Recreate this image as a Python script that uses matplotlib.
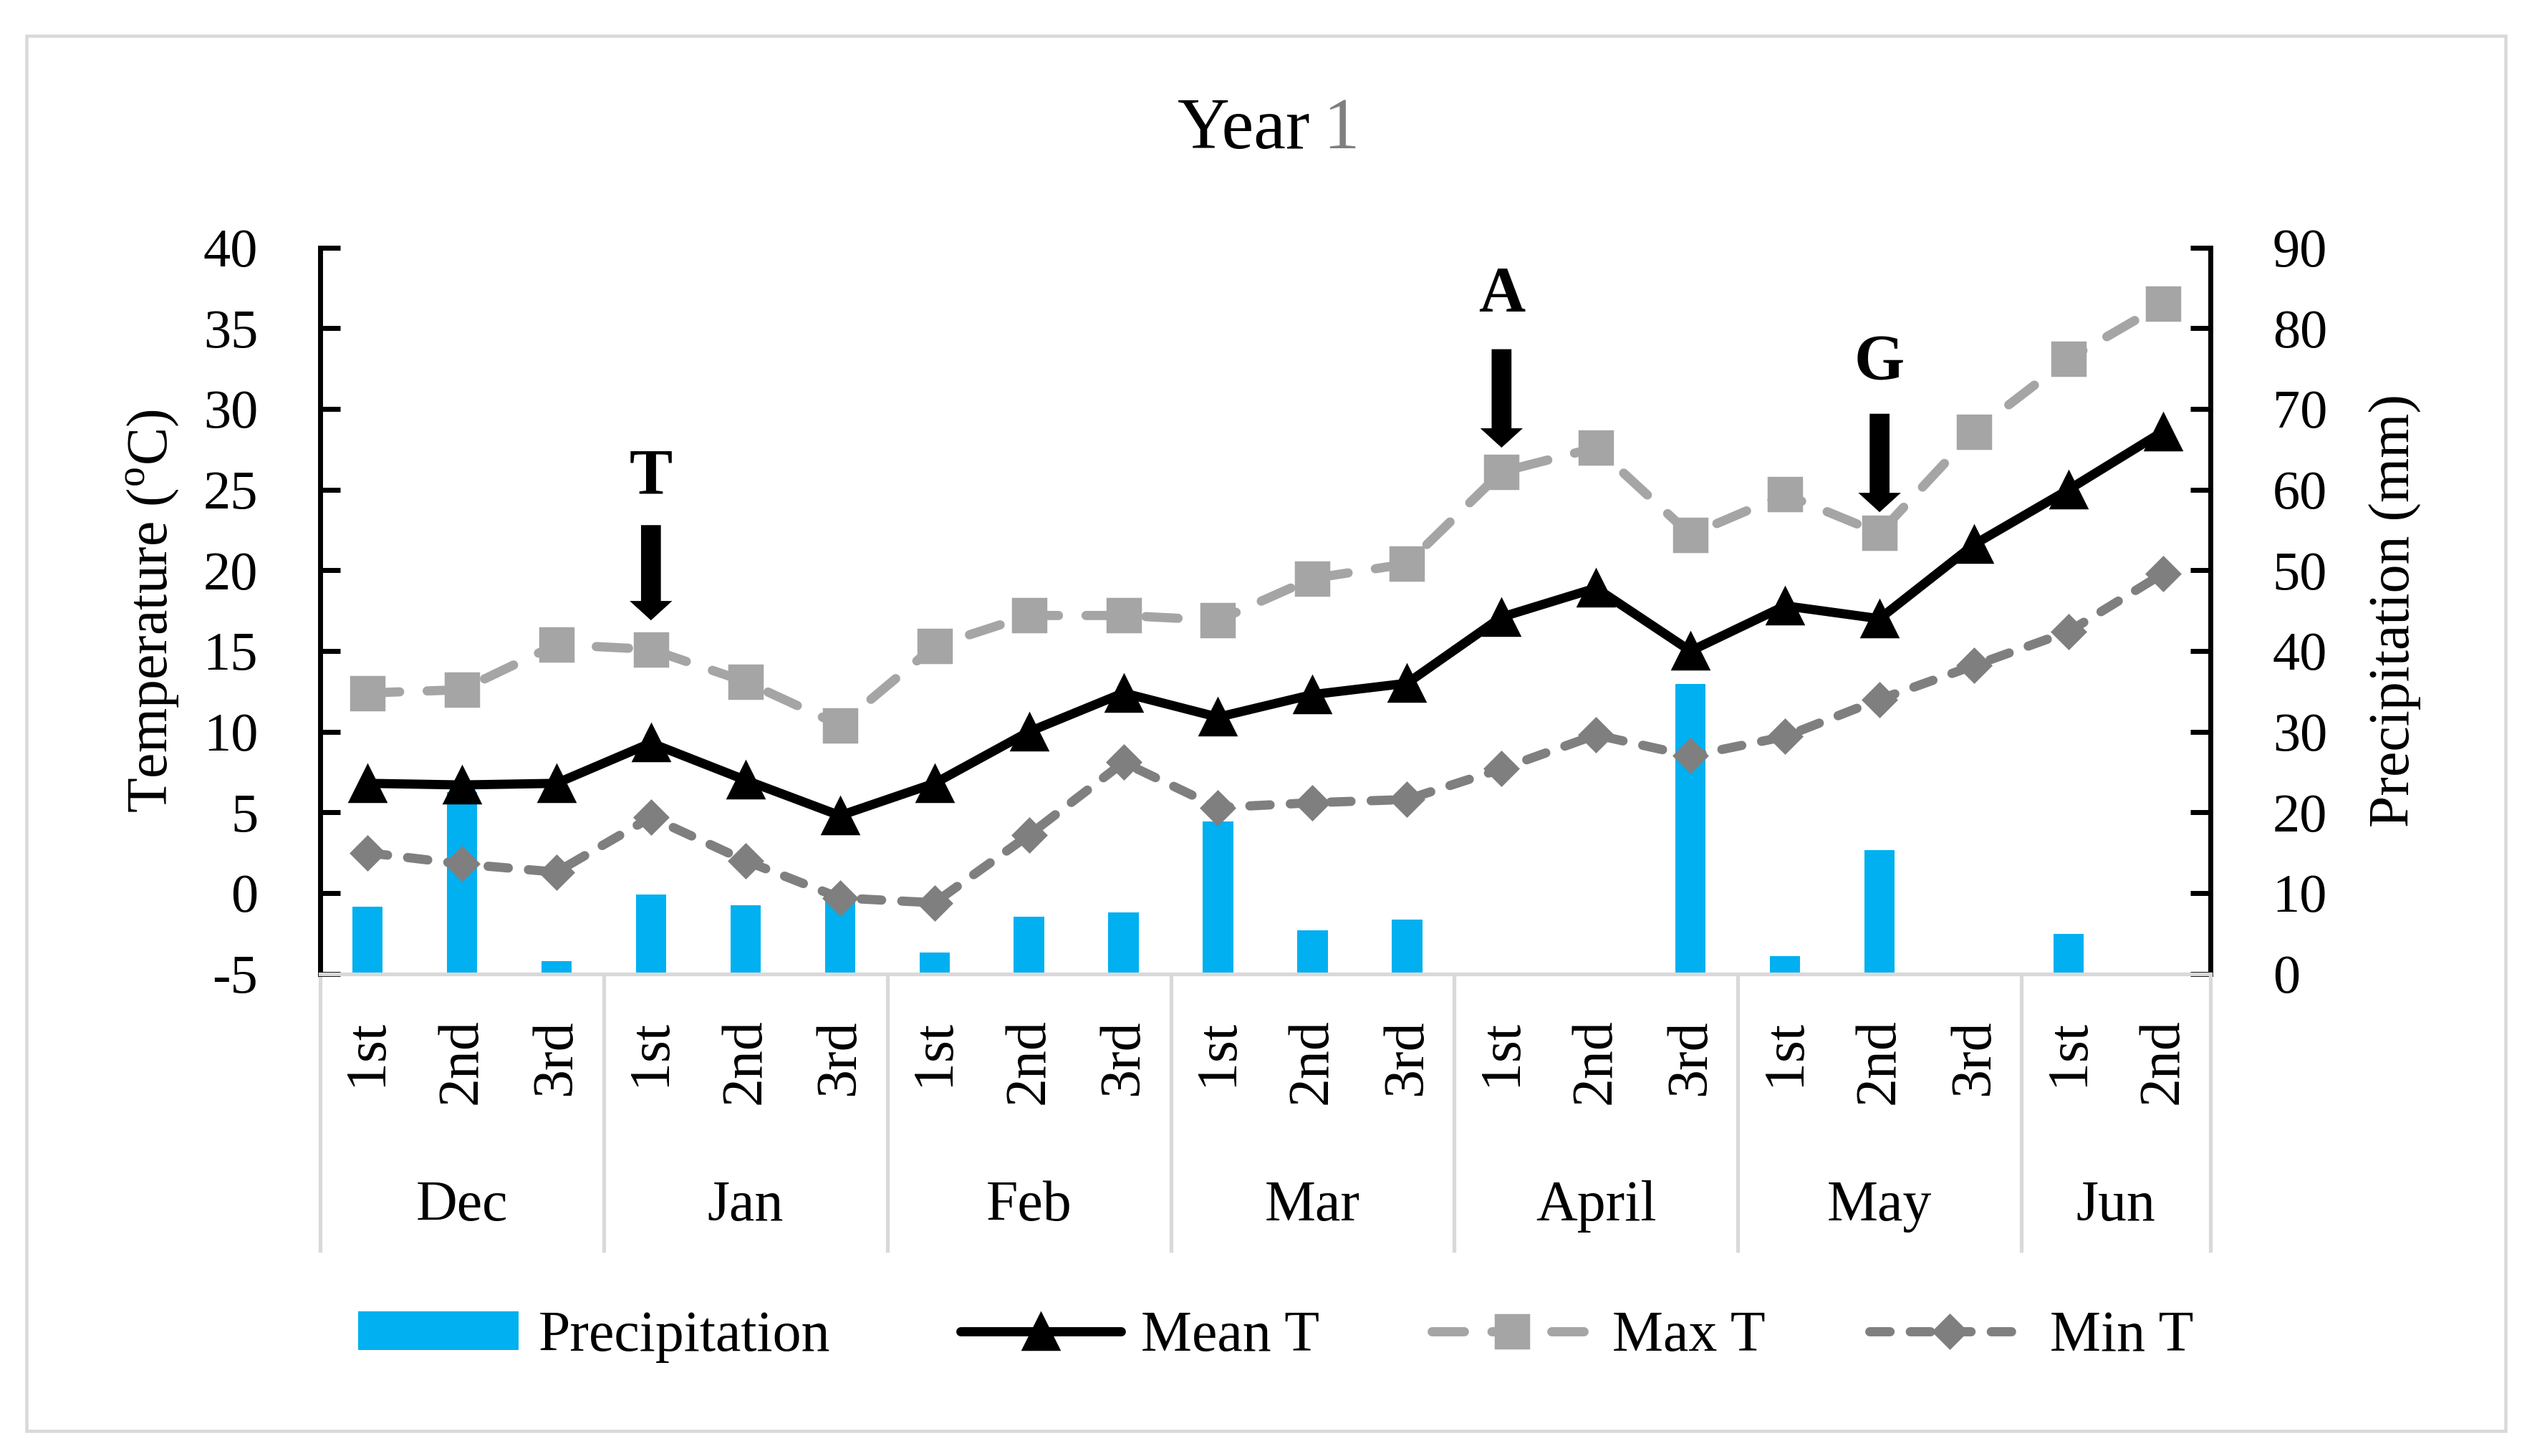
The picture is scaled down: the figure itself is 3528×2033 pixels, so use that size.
import numpy as np
import matplotlib.pyplot as plt
from matplotlib.patches import FancyArrow, Rectangle

plt.rcParams["font.family"] = ["Liberation Serif", "DejaVu Serif"]
plt.rcParams["mathtext.fontset"] = "custom"
plt.rcParams["mathtext.rm"] = "Liberation Serif"
plt.rcParams["axes.unicode_minus"] = False

# ---------------------------------------------------------------------------
# Data (ten-day periods, Dec -> Jun)
# ---------------------------------------------------------------------------
months = ["Dec", "Jan", "Feb", "Mar", "April", "May", "Jun"]
periods_per_month = [3, 3, 3, 3, 3, 3, 2]
period_names = ["1st", "2nd", "3rd"]

precip = [8.3, 22.5, 1.6, 9.8, 8.5, 9.5, 2.6, 7.1, 7.6, 18.9,
          5.4, 6.7, 0.0, 0.0, 35.9, 2.2, 15.3, 0.0, 4.9, 0.0]
mean_t = [6.8, 6.7, 6.8, 9.3, 7.0, 4.8, 6.8, 10.0, 12.4, 10.9,
          12.3, 13.0, 17.1, 18.9, 15.0, 17.8, 17.0, 21.6, 25.0, 28.6]
max_t = [12.4, 12.6, 15.4, 15.1, 13.1, 10.4, 15.3, 17.2, 17.2, 16.9,
         19.5, 20.4, 26.1, 27.6, 22.2, 24.7, 22.3, 28.6, 33.1, 36.5]
min_t = [2.5, 1.8, 1.3, 4.7, 2.0, -0.3, -0.6, 3.6, 8.1, 5.3,
         5.6, 5.8, 7.7, 9.8, 8.5, 9.7, 12.0, 14.1, 16.2, 19.8]

# stage markers: label, period index, arrow top, arrow tip, label height
marks = ["T", "A", "G"]
mark_idx = [3, 12, 16]
mark_top = [22.8, 33.7, 29.7]
mark_tip = [16.9, 27.6, 23.6]
mark_lab = [25.7, 37.0, 32.8]

legend_labels = ["Precipitation", "Mean T", "Max T", "Min T"]
legend_x = [0.1417, 0.3801, 0.5666, 0.7398]   # left edge of each legend key

FS = 22
FS_CAT = 23
GRID_GREY = "#d9d9d9"

fig = plt.figure(figsize=(14.112, 8.132), dpi=250)
ax = fig.add_axes([0.1267, 0.3312, 0.748, 0.4988])
ax2 = ax.twinx()
ax.set_zorder(ax2.get_zorder() + 1)
ax.patch.set_visible(False)

labels_x = []
for n in periods_per_month:
    labels_x += period_names[:n]
n_pts = len(labels_x)
x = np.arange(n_pts) + 0.5

bars = ax2.bar(x, precip, width=0.32, color="#00b0f0")

l_mean, = ax.plot(x, mean_t, color="black", lw=3.7, marker="^", ms=14.4,
                  solid_capstyle="round")
l_max, = ax.plot(x, max_t, color="#a5a5a5", lw=3.7, ls=(0, (3.5, 3.0)),
                 dash_capstyle="round", marker="s", ms=13.2)
l_min, = ax.plot(x, min_t, color="#7f7f7f", lw=3.7, ls=(0, (2.2, 2.2)),
                 dash_capstyle="round", marker="D", ms=9.5)

ax.set_xlim(0, n_pts)
ax.set_ylim(-5, 40)
ax.set_yticks(range(-5, 41, 5))
ax2.set_ylim(0, 90)
ax2.set_yticks(range(0, 91, 10))
ax.set_xticks([])
ax2.set_xticks([])

for a in (ax, ax2):
    a.spines["top"].set_visible(False)
ax.spines["right"].set_visible(False)
ax2.spines["left"].set_visible(False)
ax2.spines["bottom"].set_visible(False)
ax.spines["left"].set_linewidth(2)
ax2.spines["right"].set_linewidth(2)
ax.spines["bottom"].set_color(GRID_GREY)
ax.spines["bottom"].set_linewidth(1.5)

ax.tick_params(axis="y", direction="in", length=8, width=2, pad=25, labelsize=FS)
ax2.tick_params(axis="y", direction="in", length=8, width=2, pad=25, labelsize=FS)

ax.set_ylabel(r"Temperature ($^{\rm o}$C)", fontsize=FS_CAT, labelpad=9)
ax2.set_ylabel("Precipitation (mm)", fontsize=FS_CAT, labelpad=17)

# two-level category axis
trans = ax.get_xaxis_transform()
bounds = np.concatenate([[0], np.cumsum(periods_per_month)])
for b in bounds:
    ax.plot([b, b], [0, -0.381], transform=trans, clip_on=False,
            color=GRID_GREY, lw=1.5)
for xi, lab in zip(x, labels_x):
    ax.text(xi, -0.062, lab, transform=trans, rotation=90, ha="center",
            va="top", fontsize=FS_CAT)
for i, m in enumerate(months):
    ax.text((bounds[i] + bounds[i + 1]) / 2, -0.32, m, transform=trans,
            ha="center", va="center", fontsize=FS_CAT)

# stage arrows
for lab, i, top, tip, ly in zip(marks, mark_idx, mark_top, mark_tip, mark_lab):
    ax.add_patch(FancyArrow(x[i], top, 0, tip - top, width=0.21,
                            head_width=0.45, head_length=1.2,
                            length_includes_head=True, color="black", lw=0))
    ax.text(x[i], ly, lab, ha="center", va="center", fontsize=26,
            fontweight="bold")

# title
fig.text(0.5185, 0.898, "Year", ha="right", va="baseline", fontsize=29)
fig.text(0.5235, 0.898, "1", ha="left", va="baseline", fontsize=29,
         color="#7f7f7f")

# legend, one key per entry so each sits where the original places it
for h, lab, lx in zip([bars, l_mean, l_max, l_min], legend_labels, legend_x):
    fig.legend([h], [lab], loc="center left", bbox_to_anchor=(lx, 0.0817),
               frameon=False, fontsize=FS_CAT, handlelength=2.8,
               handletextpad=0.35, handleheight=0.66, borderpad=0,
               borderaxespad=0)

fig.patches.append(Rectangle((37 / 3528, 1 - 1998 / 2033), 3461 / 3528,
                             1948 / 2033, transform=fig.transFigure,
                             fill=False, ec=GRID_GREY, lw=1.3))

fig.savefig("out.png", dpi=250)
